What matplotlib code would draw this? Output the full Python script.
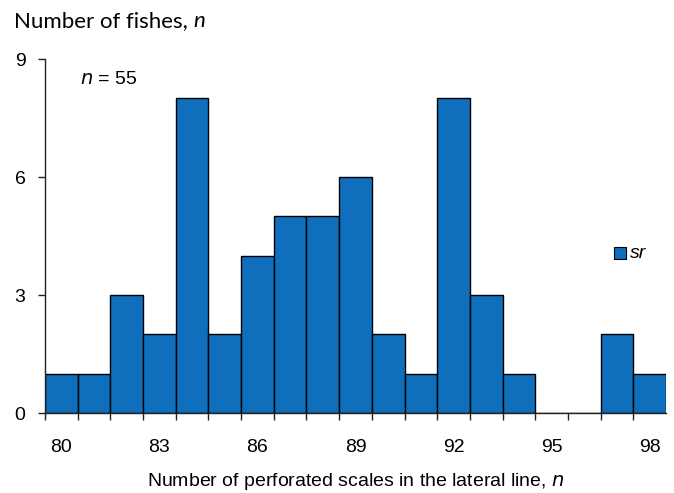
import matplotlib
matplotlib.use("Agg")
import matplotlib.pyplot as plt
import numpy as np
from matplotlib.patches import Rectangle

scales = [80, 81, 82, 83, 84, 85, 86, 87, 88, 89, 90, 91, 92, 93, 94, 95, 96, 97, 98]
counts = [1, 1, 3, 2, 8, 2, 4, 5, 5, 6, 2, 1, 8, 3, 1, 0, 0, 2, 1]
xtick_labels = [80, 83, 86, 89, 92, 95, 98]
yticks = [0, 3, 6, 9]

color = '#0F6FBC'
font = 'Liberation Sans'
fs = 14

fig = plt.figure(figsize=(6.74, 4.93), dpi=100)
ax = fig.add_axes([45/674, 1-413/493, (666-45)/674, (413-59)/493])

ax.bar(scales, counts, width=1.0, color=color, edgecolor='black', linewidth=1.0, align='center')

ax.set_xlim(scales[0]-0.5, scales[-1]+0.5)
ax.set_ylim(0, 9)
ax.set_yticks(yticks)
ax.set_yticklabels([str(v) for v in yticks], fontfamily=font, fontsize=fs)

# major ticks at bin boundaries (no labels), labels via minor ticks at centers
bounds = np.arange(scales[0]-0.5, scales[-1]+0.5, 1.0)
ax.set_xticks(bounds)
ax.set_xticklabels([])
ax.set_xticks(xtick_labels, minor=True)
ax.set_xticklabels([str(v) for v in xtick_labels], minor=True, fontfamily=font, fontsize=fs)
ax.tick_params(axis='x', which='minor', length=0, pad=19)
ax.tick_params(axis='x', which='major', length=5, width=1, color='#222222', direction='out')
ax.tick_params(axis='y', length=5, width=1, color='#222222', direction='out', pad=9)

for s in ['top', 'right']:
    ax.spines[s].set_visible(False)
for s in ['left', 'bottom']:
    ax.spines[s].set_color('#222222')
    ax.spines[s].set_linewidth(1)

fig.text(356/674, 1-482/493, 'Number of perforated scales in the lateral line, $\\it{n}$',
         fontfamily=font, fontsize=fs, va='center', ha='center')

t = fig.text(14/674, 1-21/493, 'Number of fishes, ', fontfamily='Lato', fontsize=16, va='center', ha='left')
fig.canvas.draw()
bb = t.get_window_extent()
fig.text(bb.x1/674, 1-21/493, 'n', fontfamily='Lato', fontstyle='italic', fontsize=16, va='center', ha='left')

fig.text(80/674, 1-80/493, '$\\it{n}$ = 55', fontfamily=font, fontsize=fs, va='center', ha='left')

ax.add_patch(Rectangle((614/674, 1-259/493), 12/674, 12/493, transform=fig.transFigure,
                       facecolor=color, edgecolor='black', linewidth=0.8, clip_on=False))
fig.text(630/674, 1-253/493, 'sr', fontfamily=font, fontstyle='italic', fontsize=fs, va='center', ha='left')

fig.savefig('out.png', dpi=100)
